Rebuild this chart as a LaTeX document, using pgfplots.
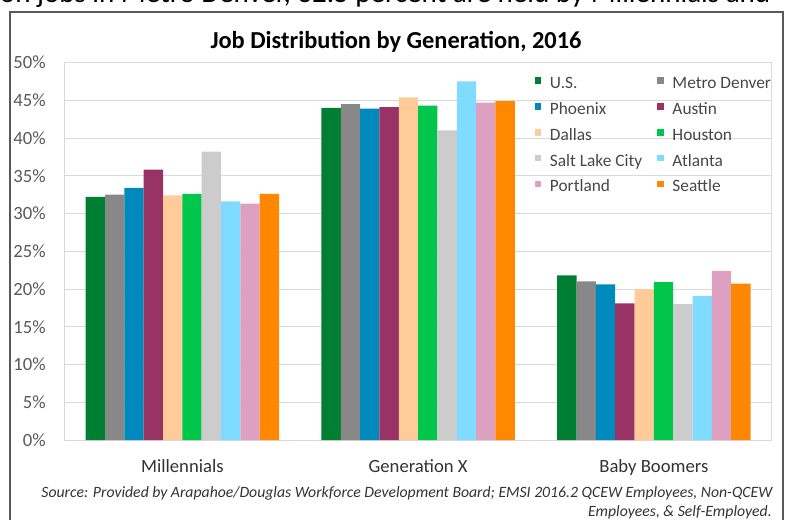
\documentclass[border=0pt]{standalone}
\usepackage{pgfplots}
\pgfplotsset{compat=1.18}
\usepackage{pgfplotstable}
\usepackage{fontspec}
\setmainfont{Carlito}

\definecolor{cUS}{HTML}{007F33}
\definecolor{cDenver}{HTML}{888888}
\definecolor{cPhoenix}{HTML}{008ABB}
\definecolor{cAustin}{HTML}{993366}
\definecolor{cDallas}{HTML}{FFCC99}
\definecolor{cHouston}{HTML}{00C64B}
\definecolor{cSLC}{HTML}{CCCCCC}
\definecolor{cAtlanta}{HTML}{7FDBFF}
\definecolor{cPortland}{HTML}{DDA0C1}
\definecolor{cSeattle}{HTML}{FF8800}
\definecolor{gridgray}{HTML}{D9D9D9}
\definecolor{labelgray}{HTML}{595959}
\definecolor{framegray}{HTML}{595959}

% share of jobs (%) by generation: 0 Millennials, 1 Generation X, 2 Baby Boomers
\pgfplotstableread{
gen us   denver phoenix austin dallas houston slc  atlanta portland seattle
0   32.2 32.5   33.4    35.8   32.4   32.6    38.2 31.6    31.3     32.6
1   44.0 44.5   43.9    44.1   45.4   44.3    41.0 47.5    44.7     44.9
2   21.8 21.0   20.6    18.1   20.0   20.9    18.0 19.1    22.4     20.7
}\jobdata

\begin{document}
\begin{tikzpicture}
  \useasboundingbox (0,0) rectangle (588.75pt,389.25pt);
  \clip (0,0) rectangle (588.75pt,389.25pt);

  % text of the page above the chart, cut at the top
  \node[anchor=base east, inner sep=0pt, font=\fontsize{21.8}{25}\selectfont]
    at (578pt,387pt) {million jobs in Metro Denver, 32.5 percent are held by Millennials and};

  % chart frame
  \draw[framegray, line width=1.5pt] (7.5pt,-10pt) rectangle (587.25pt,380.5pt);

  \node[font=\fontsize{18.3}{21}\selectfont\bfseries] at (297pt,357.75pt)
    {Job Distribution by Generation, 2016};

  \begin{axis}[
    at={(48.4pt,59.25pt)}, anchor=south west,
    scale only axis,
    width=530.4pt, height=283.1pt,
    ymin=0, ymax=50,
    ytick={0,5,...,50},
    xmin=-0.5, xmax=2.5,
    xtick={0,1,2},
    xticklabels={Millennials, Generation X, Baby Boomers},
    ymajorgrids,
    grid style={draw=gridgray, line width=0.75pt},
    axis line style={draw=gridgray, line width=0.75pt},
    major tick length=0pt,
    /pgf/number format/assume math mode=true,
    yticklabel={\pgfmathprintnumber{\tick}\%},
    yticklabel style={font=\fontsize{14}{16}\selectfont, text=labelgray,
      inner sep=0pt, anchor=east, xshift=-13.9pt},
    xticklabel style={font=\fontsize{14}{16}\selectfont, text=black!80,
      inner sep=0pt, anchor=north, yshift=-14.75pt},
    ybar=0pt, bar width=0.082,
    every axis plot/.append style={draw=none},
    legend columns=2,
    legend cell align=left,
    legend image code/.code={\fill[#1] (0pt,0pt) rectangle (5pt,5pt);},
    legend style={
      at={(0.6643,0.9707)}, anchor=north west,
      draw=none, fill=none, inner sep=0pt,
      font=\fontsize{13}{15}\selectfont, text=labelgray!80!black,
      nodes={inner sep=2pt, text height=9pt, text depth=2pt},
      row sep=4.4pt,
      /tikz/every odd column/.append style={column sep=4.5pt},
      /tikz/every even column/.append style={column sep=9.2pt},
    },
  ]
    \addplot[fill=cUS] table[x=gen, y=us] {\jobdata};
    \addlegendentry{U.S.}
    \addplot[fill=cDenver] table[x=gen, y=denver] {\jobdata};
    \addlegendentry{Metro Denver}
    \addplot[fill=cPhoenix] table[x=gen, y=phoenix] {\jobdata};
    \addlegendentry{Phoenix}
    \addplot[fill=cAustin] table[x=gen, y=austin] {\jobdata};
    \addlegendentry{Austin}
    \addplot[fill=cDallas] table[x=gen, y=dallas] {\jobdata};
    \addlegendentry{Dallas}
    \addplot[fill=cHouston] table[x=gen, y=houston] {\jobdata};
    \addlegendentry{Houston}
    \addplot[fill=cSLC] table[x=gen, y=slc] {\jobdata};
    \addlegendentry{Salt Lake City}
    \addplot[fill=cAtlanta] table[x=gen, y=atlanta] {\jobdata};
    \addlegendentry{Atlanta}
    \addplot[fill=cPortland] table[x=gen, y=portland] {\jobdata};
    \addlegendentry{Portland}
    \addplot[fill=cSeattle] table[x=gen, y=seattle] {\jobdata};
    \addlegendentry{Seattle}
  \end{axis}

  % source note
  \node[anchor=base east, inner sep=0pt, font=\fontsize{11.8}{13}\selectfont\itshape, text=black!80]
    at (579.5pt,16pt) {Source: Provided by Arapahoe/Douglas Workforce Development Board; EMSI 2016.2 QCEW Employees, Non-QCEW};
  \node[anchor=base east, inner sep=0pt, font=\fontsize{11.8}{13}\selectfont\itshape, text=black!80]
    at (579pt,2pt) {Employees, \& Self-Employed.};
\end{tikzpicture}
\end{document}
